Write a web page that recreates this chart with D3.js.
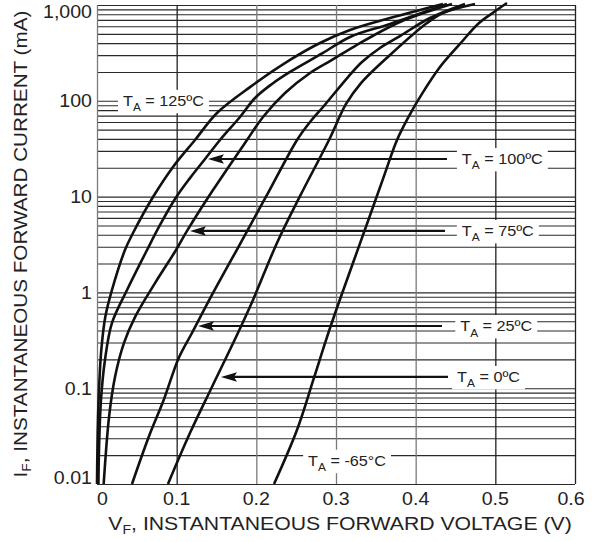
<!DOCTYPE html>
<html>
<head>
<meta charset="utf-8">
<script src="https://cdn.jsdelivr.net/npm/d3@7"></script>
<style>
	html, body { margin: 0; padding: 0; background: #fff; }
	svg { display: block; font-family: "Liberation Sans", Arial, sans-serif; }
</style>
</head>
<body>
<div id="chart"></div>
<script>
// forward voltage (V) / forward current (mA), one pair per temperature
var vf125 = [0, 0.0004, 0.0013, 0.0029, 0.0054, 0.0104, 0.0188, 0.0351, 0.0452, 0.0703, 0.0954, 0.123, 0.1506, 0.192, 0.2423, 0.2799, 0.3176, 0.3678, 0.4343];
var if125 = [0.01, 0.0191, 0.05, 0.113, 0.251, 0.553, 1.06, 2.77, 4.17, 9.9, 20.4, 39, 74.6, 139, 267, 401, 548, 731, 1024];
var vf100 = [0.0018, 0.0025, 0.005, 0.01, 0.0188, 0.0377, 0.0628, 0.0791, 0.0979, 0.1167, 0.1356, 0.1544, 0.1795, 0.1983, 0.2197, 0.2423, 0.2837, 0.3176, 0.3678, 0.4393];
var if100 = [0.01, 0.0226, 0.0753, 0.197, 0.48, 1.06, 2.77, 5.06, 9.44, 15.6, 24.7, 39, 67.8, 107, 150, 200, 316, 464, 634, 1024];
var vf75 = [0.0084, 0.0151, 0.0226, 0.0339, 0.0477, 0.0728, 0.0992, 0.113, 0.1456, 0.1883, 0.2084, 0.236, 0.2674, 0.295, 0.3238, 0.3803, 0.4456];
var if75 = [0.01, 0.05, 0.131, 0.297, 0.553, 1.25, 2.77, 4.38, 11.7, 39, 67.8, 120.5, 195, 267, 373, 665, 1024];
var vf25 = [0.0439, 0.0649, 0.0837, 0.1026, 0.1192, 0.1443, 0.1795, 0.2008, 0.2134, 0.2511, 0.2674, 0.2837, 0.3151, 0.3326, 0.3552, 0.3803, 0.418, 0.4619];
var if25 = [0.01, 0.031, 0.0753, 0.207, 0.377, 0.94, 3.2, 6.74, 10.4, 39, 60.1, 86.1, 177, 254, 356, 474, 731, 1024];
var vf0 = [0.0891, 0.1167, 0.1443, 0.1757, 0.1958, 0.2259, 0.2548, 0.2912, 0.3126, 0.3314, 0.3678, 0.4142, 0.4343, 0.4745];
var if0 = [0.01, 0.034, 0.103, 0.359, 0.834, 3.28, 10.1, 39, 92.7, 153, 301, 649, 825, 1024];
var vfm65 = [0.2222, 0.251, 0.2723, 0.2887, 0.3038, 0.3213, 0.3402, 0.359, 0.3766, 0.3916, 0.4079, 0.4305, 0.4556, 0.4782, 0.4983, 0.5146];
var ifm65 = [0.01, 0.0366, 0.128, 0.342, 0.794, 2.03, 5.56, 15.3, 39, 69.3, 118, 225, 392, 634, 845, 1049];

// annotations: temperature, current level of the label, where text / arrow sit in volts
var noteTemps = ['125ºC', '100ºC', '75ºC', '25ºC', '0ºC', '-65°C'];
var noteCurrent = [100, 24.7, 4.38, 0.446, 0.131, 0.0175];
var noteTextV = [0.0326, 0.458, 0.458, 0.456, 0.452, 0.265];
var arrowTipV = [null, 0.1393, 0.1167, 0.1268, 0.1556, null];
var arrowTailV = [null, 0.4393, 0.4368, 0.433, 0.4406, null];

// axes
var xTicks = [0, 0.1, 0.2, 0.3, 0.4, 0.5, 0.6];
var xTickText = ['0', '0.1', '0.2', '0.3', '0.4', '0.5', '0.6'];
var yTicks = [0.01, 0.1, 1, 10, 100, 1000];
var yTickText = ['0.01', '0.1', '1', '10', '100', '1,000'];
var yMinorSteps = [1, 2, 3, 4, 5, 6, 7, 8, 9];

var curves = [
	{vf: vf125, cur: if125},
	{vf: vf100, cur: if100},
	{vf: vf75, cur: if75},
	{vf: vf25, cur: if25},
	{vf: vf0, cur: if0},
	{vf: vfm65, cur: ifm65}
];

var W = 600, H = 542
	, plotL = 97, plotR = 575, plotT = 5, plotB = 484
	, STRETCH = 1.12
	, INK = '#222';

var svg = d3.select('#chart').append('svg')
	.attr('width', W)
	.attr('height', H);

var x = d3.scaleLinear().domain([0, 0.6]).range([plotL, plotR]);
var y = d3.scaleLog().domain([0.01, 1000]).range([plotB, plotT]);

var gridLayer = svg.append('g');
var boxLayer = svg.append('g');
var curveLayer = svg.append('g');
var textLayer = svg.append('g');

// horizontal grid: every 1..9 step of each decade
var gridY = [];
yTicks.forEach(function(d, i) {
	if (i === yTicks.length - 1) { gridY.push(d); return; }
	yMinorSteps.forEach(function(s) { gridY.push(d * s); });
});

gridLayer.append('g')
	.attr('transform', 'translate(' + plotL + ',0)')
	.call(d3.axisLeft(y).tickValues(gridY).tickSize(-(plotR - plotL)).tickFormat(''))
	.call(function(g) {
		g.select('.domain').remove();
		g.selectAll('line').attr('stroke', '#2a2a2a').attr('stroke-width', 1.1);
	});

gridLayer.append('g')
	.attr('transform', 'translate(0,' + plotB + ')')
	.call(d3.axisBottom(x).tickValues(xTicks).tickSize(-(plotB - plotT)).tickFormat(''))
	.call(function(g) {
		g.select('.domain').remove();
		g.selectAll('line')
			.attr('stroke', function(d) { return (d === 0.1 || d === 0.5 || d === 0.6) ? '#222' : '#7a7a7a'; })
			.attr('stroke-width', 1.3);
	});

// curves
var line = d3.line()
	.x(function(d) { return x(d[0]); })
	.y(function(d) { return y(d[1]); })
	.curve(d3.curveCatmullRom.alpha(0.5));

curves.forEach(function(c) {
	curveLayer.append('path')
		.datum(d3.zip(c.vf, c.cur))
		.attr('d', line)
		.attr('fill', 'none')
		.attr('stroke', '#111')
		.attr('stroke-width', 2.6)
		.attr('stroke-linejoin', 'round');
});

// stretched text helper
function label(layer, px, py, rot, anchor, size, stretch) {
	var g = layer.append('g')
		.attr('transform', 'translate(' + px + ',' + py + ')' + (rot ? ' rotate(' + rot + ')' : '') + ' scale(' + (stretch || STRETCH) + ',1)');
	return g.append('text')
		.attr('text-anchor', anchor)
		.attr('font-size', size)
		.attr('fill', INK);
}

// y tick labels
yTicks.forEach(function(d, i) {
	var py = y(d) + 6.5;
	if (i === 0) py = y(d) - 0.5;
	if (i === yTicks.length - 1) py = y(d) + 13;
	label(textLayer, plotL - 5, py, 0, 'end', 17.5).text(yTickText[i]);
});

// x tick labels
xTicks.forEach(function(d, i) {
	var px = x(d), anchor = 'middle';
	if (i === 0) anchor = 'start';
	if (i === xTicks.length - 1) px -= 4;
	label(textLayer, px, plotB + 21, 0, anchor, 17.5).text(xTickText[i]);
});

// axis titles
var xt = label(textLayer, 340, 530, 0, 'middle', 18, 1.18);
xt.append('tspan').text('V');
xt.append('tspan').attr('font-size', 12).attr('dy', 4).text('F');
xt.append('tspan').attr('dy', -4).text(', INSTANTANEOUS FORWARD VOLTAGE (V)');

var yt = label(textLayer, 27, 244, -90, 'middle', 18, 1.15);
yt.append('tspan').text('I');
yt.append('tspan').attr('font-size', 12).attr('dy', 4).text('F');
yt.append('tspan').attr('dy', -4).text(', INSTANTANEOUS FORWARD CURRENT (mA)');

// temperature notes with arrows
noteTemps.forEach(function(t, i) {
	var cy = y(noteCurrent[i]);
	var txt = label(textLayer, x(noteTextV[i]), cy + 5.5, 0, 'start', 15, 1.08);
	txt.append('tspan').text('T');
	txt.append('tspan').attr('font-size', 11).attr('dy', 5).text('A');
	txt.append('tspan').attr('dy', -5).text(' = ' + t);

	var bb = txt.node().getBoundingClientRect();
	boxLayer.append('rect')
		.attr('x', bb.left - 5)
		.attr('y', bb.top - 3)
		.attr('width', bb.width + 10)
		.attr('height', bb.height + 3)
		.attr('fill', '#fff');

	if (arrowTipV[i] === null) return;
	var tip = x(arrowTipV[i]), tail = x(arrowTailV[i]);
	curveLayer.append('line')
		.attr('x1', tail).attr('y1', cy)
		.attr('x2', tip + 10).attr('y2', cy)
		.attr('stroke', '#111')
		.attr('stroke-width', 2.2);
	curveLayer.append('path')
		.attr('d', 'M' + tip + ',' + cy + 'L' + (tip + 16) + ',' + (cy - 4.8) + 'L' + (tip + 13) + ',' + cy + 'L' + (tip + 16) + ',' + (cy + 4.8) + 'Z')
		.attr('fill', '#111');
});
</script>
</body>
</html>
